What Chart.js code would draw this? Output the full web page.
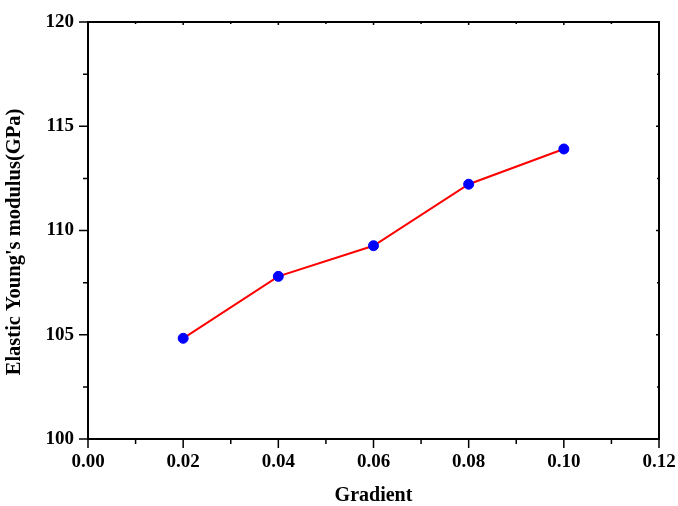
<!DOCTYPE html>
<html>
<head>
<meta charset="utf-8">
<script src="https://cdn.jsdelivr.net/npm/chart.js@4/dist/chart.umd.min.js"></script>
<style>
  html, body { margin: 0; padding: 0; background: #fff; }
  #wrap { width: 678px; height: 506px; position: relative; }
</style>
</head>
<body>
<div id="wrap"><canvas id="c" width="678" height="506"></canvas></div>
<script>
// ---- data ----
const gradient = [0.02, 0.04, 0.06, 0.08, 0.10];
const modulus = [104.83, 107.80, 109.27, 112.22, 113.91];
const xTicks = [0.00, 0.02, 0.04, 0.06, 0.08, 0.10, 0.12];
const yTicks = [100, 105, 110, 115, 120];
const xMinor = [0.01, 0.03, 0.05, 0.07, 0.09, 0.11];
const yMinor = [102.5, 107.5, 112.5, 117.5];
const xTitle = 'Gradient';
const yTitle = "Elastic Young's modulus(GPa)";

const FONT = '"Liberation Serif", "Times New Roman", serif';

const framePlugin = {
  id: 'frame',
  afterDraw(chart) {
    const ctx = chart.ctx;
    const xs = chart.scales.x, ys = chart.scales.y;
    const a = chart.chartArea;
    ctx.save();
    ctx.strokeStyle = '#000';
    ctx.lineWidth = 2;
    ctx.beginPath();
    ctx.rect(a.left, a.top, a.right - a.left, a.bottom - a.top);
    ctx.stroke();
    ctx.lineWidth = 1.5;
    ctx.beginPath();
    xTicks.forEach(v => {
      const p = xs.getPixelForValue(v);
      ctx.moveTo(p, a.bottom); ctx.lineTo(p, a.bottom + 9);
      ctx.moveTo(p, a.top); ctx.lineTo(p, a.top + 3);
    });
    xMinor.forEach(v => {
      const p = xs.getPixelForValue(v);
      ctx.moveTo(p, a.bottom); ctx.lineTo(p, a.bottom + 5);
      ctx.moveTo(p, a.top); ctx.lineTo(p, a.top + 2);
    });
    yTicks.forEach(v => {
      const p = ys.getPixelForValue(v);
      ctx.moveTo(a.left, p); ctx.lineTo(a.left - 9, p);
      ctx.moveTo(a.right, p); ctx.lineTo(a.right - 3, p);
    });
    yMinor.forEach(v => {
      const p = ys.getPixelForValue(v);
      ctx.moveTo(a.left, p); ctx.lineTo(a.left - 5, p);
      ctx.moveTo(a.right, p); ctx.lineTo(a.right - 2, p);
    });
    ctx.stroke();
    // axis titles
    ctx.fillStyle = '#000';
    ctx.font = 'bold 20px ' + FONT;
    ctx.textAlign = 'center';
    ctx.textBaseline = 'alphabetic';
    ctx.fillText(xTitle, (a.left + a.right) / 2, 501);
    ctx.font = 'bold 20.5px ' + FONT;
    ctx.translate(20, 242);
    ctx.rotate(-Math.PI / 2);
    ctx.fillText(yTitle, 0, 0);
    ctx.restore();
  }
};

new Chart(document.getElementById('c'), {
  type: 'line',
  data: {
    datasets: [{
      data: gradient.map((g, i) => ({ x: g, y: modulus[i] })),
      borderColor: '#ff0000',
      borderWidth: 2,
      pointBackgroundColor: '#0000ff',
      pointBorderColor: '#0000ff',
      pointRadius: 5,
      pointBorderWidth: 1,
      tension: 0,
      fill: false
    }]
  },
  options: {
    responsive: false,
    animation: false,
    devicePixelRatio: 1,
    layout: { padding: { top: 22, right: 19, left: 0, bottom: 0 } },
    plugins: { legend: { display: false }, tooltip: { enabled: false } },
    scales: {
      x: {
        type: 'linear',
        min: 0, max: 0.12,
        afterBuildTicks: s => { s.ticks = xTicks.map(v => ({ value: v })); },
        afterFit: s => { s.height = 67; s.paddingLeft = 0; s.paddingRight = 0; },
        grid: { display: false, drawTicks: false },
        border: { display: false },
        ticks: {
          padding: 12,
          color: '#000',
          font: { family: FONT, size: 19, weight: 'bold' },
          callback: v => Number(v).toFixed(2)
        }
      },
      y: {
        type: 'linear',
        min: 100, max: 120,
        afterBuildTicks: s => { s.ticks = yTicks.map(v => ({ value: v })); },
        afterFit: s => { s.width = 88; s.paddingTop = 0; s.paddingBottom = 0; },
        grid: { display: false, drawTicks: false },
        border: { display: false },
        ticks: {
          padding: 14,
          color: '#000',
          font: { family: FONT, size: 19, weight: 'bold' },
          callback: v => String(v)
        }
      }
    }
  },
  plugins: [framePlugin]
});
</script>
</body>
</html>
